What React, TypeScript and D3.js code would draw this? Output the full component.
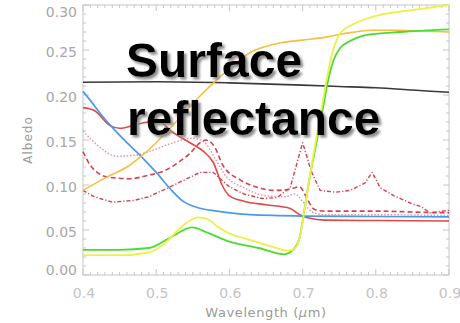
import React from "react";
import * as d3 from "d3";

// ---- Albedo spectra (wavelength in µm, albedo) ----
const blackWl = [0.4, 0.5, 0.6, 0.7, 0.75, 0.8, 0.85, 0.9];
const blackAlb = [0.2142, 0.2148, 0.2135, 0.211, 0.2095, 0.208, 0.2055, 0.203];

const orangeWl = [0.4, 0.433, 0.46, 0.478, 0.5, 0.52, 0.546, 0.565, 0.583, 0.605, 0.628, 0.65, 0.67, 0.7, 0.73, 0.755, 0.795, 0.83, 0.87, 0.9];
const orangeAlb = [0.094, 0.109, 0.12, 0.131, 0.147, 0.164, 0.187, 0.203, 0.217, 0.233, 0.247, 0.254, 0.258, 0.261, 0.264, 0.268, 0.272, 0.272, 0.271, 0.27];

const yellowWl = [0.4, 0.45, 0.49, 0.51, 0.53, 0.545, 0.557, 0.57, 0.585, 0.6, 0.62, 0.64, 0.66, 0.68, 0.69, 0.697, 0.704, 0.712, 0.72, 0.727, 0.733, 0.74, 0.748, 0.757, 0.765, 0.8, 0.847, 0.9];
const yellowAlb = [0.022, 0.022, 0.025, 0.034, 0.05, 0.06, 0.064, 0.062, 0.053, 0.046, 0.041, 0.036, 0.031, 0.027, 0.03, 0.045, 0.08, 0.12, 0.158, 0.19, 0.218, 0.245, 0.264, 0.273, 0.277, 0.288, 0.294, 0.3];

const greenWl = [0.4, 0.45, 0.49, 0.52, 0.549, 0.57, 0.6, 0.64, 0.675, 0.688, 0.696, 0.703, 0.71, 0.717, 0.722, 0.728, 0.734, 0.742, 0.751, 0.765, 0.79, 0.833, 0.9];
const greenAlb = [0.028, 0.028, 0.03, 0.042, 0.053, 0.047, 0.037, 0.03, 0.023, 0.029, 0.042, 0.075, 0.11, 0.139, 0.16, 0.186, 0.213, 0.238, 0.252, 0.26, 0.267, 0.27, 0.273];

const blueWl = [0.4, 0.41, 0.425, 0.44, 0.46, 0.478, 0.5, 0.52, 0.535, 0.556, 0.583, 0.628, 0.7, 0.8, 0.9];
const blueAlb = [0.204, 0.194, 0.178, 0.164, 0.147, 0.133, 0.114, 0.095, 0.083, 0.075, 0.071, 0.067, 0.0655, 0.065, 0.0645];

const redWl = [0.4, 0.415, 0.437, 0.45, 0.468, 0.49, 0.505, 0.52, 0.546, 0.565, 0.578, 0.59, 0.6, 0.62, 0.65, 0.683, 0.696, 0.71, 0.73, 0.8, 0.9];
const redAlb = [0.186, 0.183, 0.166, 0.163, 0.166, 0.17, 0.17, 0.16, 0.147, 0.137, 0.125, 0.1, 0.088, 0.082, 0.078, 0.074, 0.067, 0.063, 0.061, 0.0605, 0.06];

const dashWl = [0.4, 0.41, 0.433, 0.464, 0.49, 0.509, 0.53, 0.546, 0.56, 0.568, 0.58, 0.591, 0.614, 0.64, 0.66, 0.68, 0.696, 0.706, 0.716, 0.73, 0.76, 0.8, 0.85, 0.9];
const dashAlb = [0.137, 0.122, 0.109, 0.107, 0.111, 0.115, 0.125, 0.135, 0.147, 0.15, 0.142, 0.122, 0.106, 0.097, 0.094, 0.095, 0.098, 0.085, 0.073, 0.071, 0.071, 0.071, 0.07, 0.069];

const dashDotWl = [0.4, 0.415, 0.44, 0.47, 0.49, 0.519, 0.56, 0.578, 0.6, 0.62, 0.645, 0.665, 0.683, 0.7, 0.712, 0.724, 0.745, 0.765, 0.785, 0.795, 0.806, 0.825, 0.847, 0.862, 0.874, 0.9];
const dashDotAlb = [0.094, 0.087, 0.081, 0.083, 0.087, 0.098, 0.114, 0.114, 0.098, 0.09, 0.085, 0.086, 0.097, 0.147, 0.115, 0.094, 0.092, 0.094, 0.102, 0.114, 0.097, 0.088, 0.08, 0.076, 0.069, 0.072];

const dotWl = [0.4, 0.423, 0.446, 0.47, 0.5, 0.523, 0.55, 0.565, 0.58, 0.595, 0.62, 0.65, 0.675, 0.69, 0.7, 0.713, 0.73, 0.8, 0.9];
const dotAlb = [0.16, 0.142, 0.132, 0.133, 0.14, 0.147, 0.152, 0.148, 0.13, 0.11, 0.097, 0.088, 0.087, 0.09, 0.082, 0.07, 0.067, 0.067, 0.066];

const xTicks = [0.4, 0.5, 0.6, 0.7, 0.8, 0.9];
const yTicks = [0, 0.05, 0.1, 0.15, 0.2, 0.25, 0.3];

const titleLines = ["Surface", "reflectance"];

const W = 460;
const H = 323;
const plot = { left: 83, right: 449, top: 5, bottom: 275 };

const x = d3.scaleLinear().domain([0.4, 0.9]).range([plot.left, plot.right]);
const y = d3.scaleLinear().domain([0, 0.3]).range([plot.bottom, plot.top]);

type Series = {
  wl: number[];
  alb: number[];
  color: string;
  width: number;
  dash?: string;
  curve?: d3.CurveFactory;
};

const series: Series[] = [
  { wl: blackWl, alb: blackAlb, color: "#3a3a3a", width: 1.6 },
  { wl: dotWl, alb: dotAlb, color: "#f08a9a", width: 1.4, dash: "1.5,1.8" },
  { wl: dashDotWl, alb: dashDotAlb, color: "#d8404f", width: 1.4, dash: "4,2,1.2,2", curve: d3.curveLinear },
  { wl: dashWl, alb: dashAlb, color: "#d8404f", width: 1.6, dash: "5,3" },
  { wl: redWl, alb: redAlb, color: "#e04848", width: 1.6 },
  { wl: blueWl, alb: blueAlb, color: "#4a9be6", width: 1.7 },
  { wl: orangeWl, alb: orangeAlb, color: "#f4c040", width: 1.6 },
  { wl: greenWl, alb: greenAlb, color: "#4cdc30", width: 1.8 },
  { wl: yellowWl, alb: yellowAlb, color: "#ecf04a", width: 1.8 },
];

const axisColor = "#c6c6c6";
const labelColor = "#a8a8a8";

function makePath(s: Series): string {
  const pts: [number, number][] = s.wl.map((w, i) => [w, s.alb[i]]);
  const gen = d3
    .line<[number, number]>()
    .x((d) => x(d[0]))
    .y((d) => y(d[1]))
    .curve(s.curve ?? d3.curveMonotoneX);
  return gen(pts) ?? "";
}

export default function App() {
  const xMinor = d3.range(0.4, 0.9001, 0.01);
  const yMinor = d3.range(0, 0.3001, 0.01);
  const tickFont = "'DejaVu Sans', Verdana, sans-serif";

  return (
    <svg
      width={W}
      height={H}
      viewBox={`0 0 ${W} ${H}`}
      style={{ position: "fixed", left: 0, top: 0, background: "#fff" }}
    >
      <defs>
        <filter id="titleShadow" x="-5%" y="-20%" width="115%" height="150%">
          <feDropShadow dx="2.5" dy="2.5" stdDeviation="0.9" floodColor="#8c8c8c" floodOpacity="1" />
        </filter>
      </defs>

      {/* frame with inward ticks on all four sides */}
      <g stroke={axisColor} strokeWidth={1} fill="none">
        <rect
          x={plot.left}
          y={plot.top}
          width={plot.right - plot.left}
          height={plot.bottom - plot.top}
        />
        {xMinor.map((v, i) => {
          const major = i % 10 === 0;
          const len = major ? 6 : 3;
          const px = x(v);
          return (
            <g key={`xt${i}`}>
              <line x1={px} x2={px} y1={plot.bottom} y2={plot.bottom - len} />
              <line x1={px} x2={px} y1={plot.top} y2={plot.top + len} />
            </g>
          );
        })}
        {yMinor.map((v, i) => {
          const major = i % 5 === 0;
          const len = major ? 6 : 3;
          const py = y(v);
          return (
            <g key={`yt${i}`}>
              <line x1={plot.left} x2={plot.left + len} y1={py} y2={py} />
              <line x1={plot.right} x2={plot.right - len} y1={py} y2={py} />
            </g>
          );
        })}
      </g>

      {/* spectra */}
      <g fill="none" strokeLinejoin="round">
        {series.map((s, i) => (
          <path
            key={i}
            d={makePath(s)}
            stroke={s.color}
            strokeWidth={s.width}
            strokeDasharray={s.dash}
          />
        ))}
      </g>

      {/* tick labels */}
      <g fontFamily={tickFont} fontSize={14} fill={labelColor}>
        {yTicks.map((v) => (
          <text
            key={`yl${v}`}
            x={77}
            y={Math.min(Math.max(y(v) + 2, 12), 270)}
            textAnchor="end"
            dominantBaseline="central"
          >
            {d3.format(".2f")(v)}
          </text>
        ))}
        {xTicks.map((v) => (
          <text
            key={`xl${v}`}
            x={x(v) + 1}
            y={293}
            textAnchor="middle"
            dominantBaseline="central"
            fill="#c4c4c4"
          >
            {d3.format(".1f")(v)}
          </text>
        ))}
      </g>

      {/* axis titles */}
      <text
        transform={`translate(28, ${(plot.top + plot.bottom) / 2}) rotate(-90)`}
        textAnchor="middle"
        dominantBaseline="central"
        fontFamily={tickFont}
        fontSize={12}
        letterSpacing={1}
        fill="#9a9a9a"
      >
        Albedo
      </text>
      <text
        x={(plot.left + plot.right) / 2}
        y={312}
        textAnchor="middle"
        dominantBaseline="central"
        fontFamily={tickFont}
        fontSize={13}
        letterSpacing={0.6}
        fill="#9a9a9a"
      >
        Wavelength (<tspan fontStyle="italic">μ</tspan>m)
      </text>

      {/* overlay title with drop shadow */}
      <g
        fontFamily="'Liberation Sans', Arial, sans-serif"
        fontWeight="bold"
        fontSize={48}
        fill="#000"
        filter="url(#titleShadow)"
      >
        {titleLines.map((t, i) => (
          <text key={`tt${i}`} x={i === 0 ? 126 : 127} y={i === 0 ? 77 : 135}>
            {t}
          </text>
        ))}
      </g>
    </svg>
  );
}
